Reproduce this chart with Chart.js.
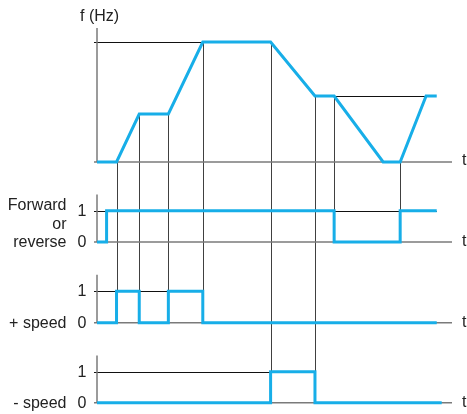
<!DOCTYPE html>
<html>
<head>
<meta charset="utf-8">
<script src="https://cdn.jsdelivr.net/npm/chart.js@4.4.0/dist/chart.umd.min.js"></script>
<style>
  html, body { margin: 0; padding: 0; background: #fff; }
  canvas { display: block; }
</style>
</head>
<body>
<canvas id="timingChart" width="467" height="414"></canvas>
<script>
// frequency curve f (Hz) against t
const fTime = [0, 5.5, 11.9, 20.1, 29.8, 48.9, 61.4, 66.8, 80.6, 85.4, 92.7, 95.7];
const fHz   = [0, 0, 20, 20, 50, 50, 27.5, 27.5, 0, 0, 27.5, 27.5];

// logic inputs (value holds from each time until the next one)
const dirTime    = [0, 2.7, 66.8, 85.4, 95.7];
const dirState   = [0, 1, 0, 1, 1];
const plusTime   = [0, 5.5, 11.9, 20.1, 29.8, 95.7];
const plusState  = [0, 1, 0, 1, 0, 0];
const minusTime  = [0, 48.9, 61.4, 97.1];
const minusState = [0, 1, 0, 0];

// thin guide lines on the frequency panel
const fGuideLevel = [50, 27.5];
const fGuideFrom  = [0, 66.8];
const fGuideTo    = [29.8, 92.7];

const stateTicks = ['0', '1'];

const BLUE = '#17aee8';
const AXIS = '#7a7a7a';
const INK = '#222';
const FONT = '16px "Liberation Sans", Arial, sans-serif';

const AREA_TOP = 20, AREA_BOTTOM = 410;
// scale range that puts value 0 at zeroPx, with unitPx pixels per unit
function band(zeroPx, unitPx) {
    return { min: -(AREA_BOTTOM - zeroPx) / unitPx, max: (zeroPx - AREA_TOP) / unitPx };
}

const signals = [
    { id: 'yDir',   time: dirTime,   state: dirState,   guideTo: 95.7, label: ['Forward', 'or', 'reverse'] },
    { id: 'yPlus',  time: plusTime,  state: plusState,  guideTo: 29.8, label: ['+ speed'] },
    { id: 'yMinus', time: minusTime, state: minusState, guideTo: 48.9, label: ['- speed'] }
];

function toPoints(xs, ys) {
    return xs.map((t, i) => ({ x: t, y: ys[i] }));
}

function line(ctx, x1, y1, x2, y2) {
    ctx.beginPath();
    ctx.moveTo(x1, y1);
    ctx.lineTo(x2, y2);
    ctx.stroke();
}

const timingDecor = {
    id: 'timingDecor',
    beforeDatasetsDraw(chart) {
        const { ctx, scales } = chart;
        const x = scales.x;
        const yF = scales.yF;
        const x0 = x.getPixelForValue(0);
        const xEnd = x.getPixelForValue(100);
        ctx.save();

        // connectors from the f curve down to the logic edges
        ctx.strokeStyle = '#404040';
        ctx.lineWidth = 1;
        signals.forEach(s => {
            const ys = scales[s.id];
            for (let i = 1; i < s.time.length; i++) {
                if (s.state[i] === s.state[i - 1]) continue;
                const k = fTime.indexOf(s.time[i]);
                if (k < 0) continue;
                const px = Math.round(x.getPixelForValue(s.time[i])) + 0.5;
                line(ctx, px, yF.getPixelForValue(fHz[k]), px, ys.getPixelForValue(1));
            }
        });

        // guide lines
        ctx.strokeStyle = '#111';
        fGuideLevel.forEach((lvl, i) => {
            const py = Math.round(yF.getPixelForValue(lvl)) + 0.5;
            const from = fGuideFrom[i] === 0 ? x0 - 3 : x.getPixelForValue(fGuideFrom[i]);
            line(ctx, from, py, x.getPixelForValue(fGuideTo[i]), py);
        });
        signals.forEach(s => {
            const py = Math.round(scales[s.id].getPixelForValue(1)) + 0.5;
            line(ctx, x0 - 3, py, x.getPixelForValue(s.guideTo), py);
        });

        // axes
        ctx.strokeStyle = AXIS;
        ctx.lineWidth = 1.5;
        line(ctx, x0, yF.getPixelForValue(55.8), x0, yF.getPixelForValue(0));
        line(ctx, x0 - 3, yF.getPixelForValue(0), xEnd, yF.getPixelForValue(0));
        signals.forEach(s => {
            const ys = scales[s.id];
            line(ctx, x0, ys.getPixelForValue(1.52), x0, ys.getPixelForValue(0));
            line(ctx, x0 - 3, ys.getPixelForValue(0), xEnd, ys.getPixelForValue(0));
        });
        ctx.restore();
    },
    afterDraw(chart) {
        const { ctx, scales } = chart;
        const x = scales.x;
        const x0 = x.getPixelForValue(0);
        const xEnd = x.getPixelForValue(100);
        ctx.save();
        ctx.fillStyle = INK;
        ctx.font = FONT;
        ctx.textBaseline = 'alphabetic';

        ctx.textAlign = 'left';
        ctx.fillText('f (Hz)', x0 - 17, 21);
        ctx.fillText('t', xEnd + 10, scales.yF.getPixelForValue(0) + 3);

        signals.forEach(s => {
            const ys = scales[s.id];
            const p0 = ys.getPixelForValue(0);
            ctx.textAlign = 'left';
            ctx.fillText('t', xEnd + 10, p0 + 4);
            ctx.textAlign = 'right';
            stateTicks.forEach((tk, v) => {
                ctx.fillText(tk, x0 - 10.5, ys.getPixelForValue(v) + 5);
            });
            const n = s.label.length;
            s.label.forEach((txt, j) => {
                ctx.fillText(txt, x0 - 30.5, p0 + 5 - (n - 1 - j) * 18.5);
            });
        });
        ctx.restore();
    }
};

const ctx = document.getElementById('timingChart').getContext('2d');

const lineStyle = {
    borderColor: BLUE,
    borderWidth: 3,
    pointRadius: 0,
    tension: 0,
    fill: false,
    clip: false,
    borderJoinStyle: 'miter',
    borderCapStyle: 'butt'
};

const myChart = new Chart(ctx, {
    type: 'line',
    data: {
        datasets: [
            { ...lineStyle, label: 'f (Hz)', data: toPoints(fTime, fHz), yAxisID: 'yF' },
            ...signals.map(s => ({
                ...lineStyle,
                label: s.label.join(' '),
                data: toPoints(s.time, s.state),
                yAxisID: s.id,
                stepped: true
            }))
        ]
    },
    options: {
        responsive: false,
        animation: false,
        events: [],
        layout: { padding: { left: 97, right: 15, top: AREA_TOP, bottom: 414 - AREA_BOTTOM } },
        plugins: { legend: { display: false }, tooltip: { enabled: false } },
        scales: {
            x: { type: 'linear', min: 0, max: 100, display: false },
            yF: { type: 'linear', display: false, ...band(162, 2.4) },
            yDir: { type: 'linear', display: false, ...band(242, 31.3) },
            yPlus: { type: 'linear', display: false, ...band(322.7, 31.5) },
            yMinus: { type: 'linear', display: false, ...band(402.7, 31) }
        }
    },
    plugins: [timingDecor]
});
</script>
</body>
</html>
